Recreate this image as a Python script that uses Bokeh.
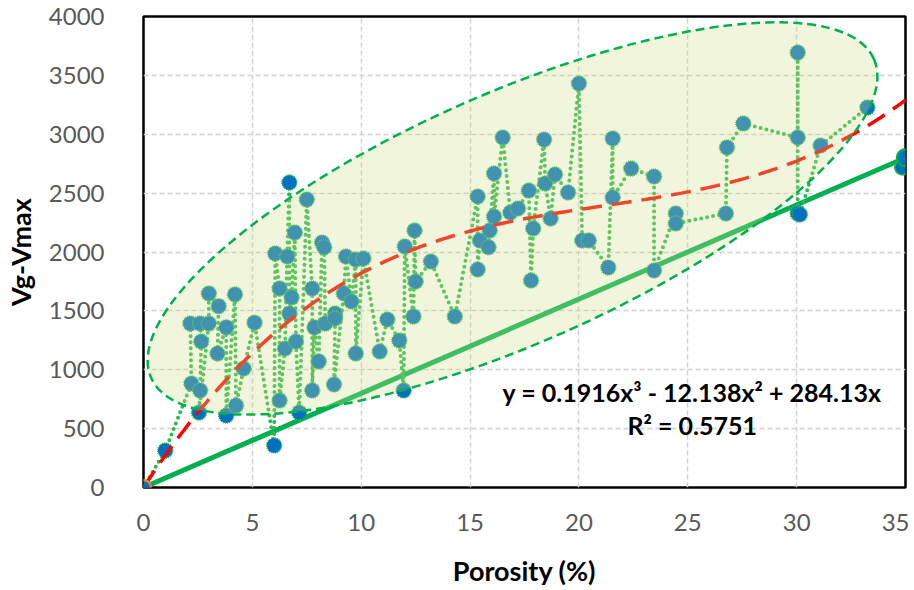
import math
import numpy as np
from bokeh.plotting import figure
from bokeh.models import Range1d, Label, FixedTicker
from bokeh.embed import file_html
from bokeh.resources import INLINE
from bokeh.core.properties import value

# ---- data ----
porosity = [0.0, 1.0, 2.2, 2.15, 2.6, 2.65, 2.6, 2.55, 3.0, 3.0, 3.45, 3.4, 3.8, 3.8,
            4.2, 4.25, 4.6, 5.1, 6.0, 6.05, 6.25, 6.25, 6.5, 6.6, 6.7, 6.7, 6.8, 6.95,
            7.0, 7.15, 7.5, 7.75, 7.75, 7.85, 8.05, 8.2, 8.3, 8.35, 8.8, 8.8, 8.75,
            9.2, 9.3, 9.55, 9.75, 9.75, 10.1, 10.85, 11.2, 11.75, 11.95, 12.0, 12.4,
            12.45, 12.5, 13.2, 14.3, 15.35, 15.35, 15.45, 15.85, 15.9, 16.1, 16.1,
            16.5, 16.85, 17.2, 17.7, 17.8, 17.9, 18.4, 18.45, 18.7, 18.9, 19.5, 20.0,
            20.15, 20.45, 21.35, 21.55, 21.55, 22.4, 23.45, 23.45, 24.45, 24.45,
            26.75, 26.8, 27.55, 30.05, 30.05, 30.05, 30.15, 31.1, 33.25]
vg_vmax = [0, 314, 883, 1393, 1393, 1240, 824, 637, 1393, 1648, 1540, 1138, 1360, 611,
           1640, 696, 1010, 1400, 357, 1987, 1690, 739, 1180, 1962, 2590, 1477, 1615, 2165,
           1240, 637, 2446, 1690, 824, 1360, 1070, 2080, 2040, 1393, 1478, 1435, 875,
           1648, 1962, 1580, 1936, 1138, 1945, 1155, 1427, 1248, 824, 2047, 1452,
           2183, 1750, 1919, 1452, 2471, 1851, 2098, 2040, 2183, 2667, 2301,
           2972, 2335, 2370, 2522, 1758, 2200, 2955, 2582, 2284, 2658, 2505, 3431,
           2098, 2098, 1868, 2964, 2463, 2709, 2641, 1843, 2327, 2242,
           2327, 2888, 3091, 2972, 3694, 2327, 2318, 2904, 3227]

extra_x = [34.85]
extra_y = [2718]

bound_x = [0, 35]
bound_y = [0, 2800]

trend_coef = [0.1916, -12.138, 284.13, 0.0]   # y = 0.1916x^3 - 12.138x^2 + 284.13x
trend_x_max = 35

ellipse_cx = [16.95]
ellipse_cy = [2285]
ellipse_w = [790]
ellipse_h = [250]
ellipse_angle_deg = 23.8

x_ticks = [0, 5, 10, 15, 20, 25, 30, 35]
y_ticks = [0, 500, 1000, 1500, 2000, 2500, 3000, 3500, 4000]

eq_text = "y = 0.1916x³ - 12.138x² + 284.13x"
r2_text = "R² = 0.5751"

# ---- figure ----
FONT = "Lato"
p = figure(frame_width=762, frame_height=471, output_backend="svg", toolbar_location=None,
           x_range=Range1d(0, 35), y_range=Range1d(0, 4000),
           min_border_left=141, min_border_right=4, min_border_top=16, min_border_bottom=90)
p.background_fill_color = "white"
p.border_fill_color = "white"
p.outline_line_color = "black"
p.outline_line_width = 2.5

for ax in (p.xaxis[0], p.yaxis[0]):
    ax.axis_line_color = None
    ax.major_tick_line_color = None
    ax.minor_tick_line_color = None
    ax.major_label_text_font = FONT
    ax.major_label_text_font_size = "24px"
    ax.major_label_text_color = "#595959"
    ax.axis_label_text_font = FONT
    ax.axis_label_text_font_size = "27px"
    ax.axis_label_text_font_style = "bold"
    ax.axis_label_text_color = "black"

p.xaxis[0].ticker = FixedTicker(ticks=x_ticks)
p.yaxis[0].ticker = FixedTicker(ticks=y_ticks)
p.xaxis[0].major_label_standoff = 20
p.yaxis[0].major_label_standoff = 33
p.xaxis[0].axis_label = "Porosity (%)"
p.yaxis[0].axis_label = "Vg-Vmax"
p.xaxis[0].axis_label_standoff = 20
p.yaxis[0].axis_label_standoff = 9

p.xgrid[0].ticker = FixedTicker(ticks=x_ticks)
p.ygrid[0].ticker = FixedTicker(ticks=y_ticks)
for g in (p.xgrid[0], p.ygrid[0]):
    g.grid_line_color = "#D0D0D0"
    g.grid_line_width = 1.5
    g.grid_line_dash = "5 3"

GREEN = "#00B050"
DOT_GREEN = "#2DB84C"
BLUE = "#0070C0"

# solid bounding line
p.line(bound_x, bound_y, line_color=GREEN, line_width=5)

# dotted connected data
p.line(porosity, vg_vmax, line_color=DOT_GREEN, line_width=4, line_dash="0 6", line_cap="round")
p.scatter(porosity[1:], vg_vmax[1:], size=15, fill_color=BLUE, line_color=DOT_GREEN,
          line_width=1.5, line_dash="1 1")
p.scatter(extra_x, extra_y, size=15, fill_color=BLUE, line_color=DOT_GREEN, line_width=1.5)

# polynomial trendline
tx = np.linspace(0, trend_x_max, 300)
ty = np.polyval(trend_coef, tx)
p.line(tx, ty, line_color="#FF0000", line_width=3.5, line_dash="20 10")

# endpoint markers
p.scatter([bound_x[1]], [bound_y[1]], size=17, fill_color=BLUE, line_color=GREEN, line_width=2.5)
p.scatter([porosity[0]], [vg_vmax[0]], size=15, fill_color=BLUE, line_color="#ED7D31", line_width=2.5)

# translucent ellipse on top
p.ellipse(x=ellipse_cx, y=ellipse_cy, width=ellipse_w, height=ellipse_h,
          width_units="screen", height_units="screen",
          angle=math.radians(ellipse_angle_deg),
          fill_color="#CEDF8F", fill_alpha=0.31,
          line_color=GREEN, line_width=2.5, line_dash="9 5")

# equation labels
p.add_layout(Label(x=25.2, y=815, text=eq_text, text_align="center", text_baseline="middle",
                   text_font=FONT, text_font_size="25px", text_font_style="bold", text_color="black"))
p.add_layout(Label(x=25.2, y=527, text=r2_text, text_align="center", text_baseline="middle",
                   text_font=FONT, text_font_size="25px", text_font_style="bold", text_color="black"))

open("out.html", "w").write(file_html(p, INLINE))
